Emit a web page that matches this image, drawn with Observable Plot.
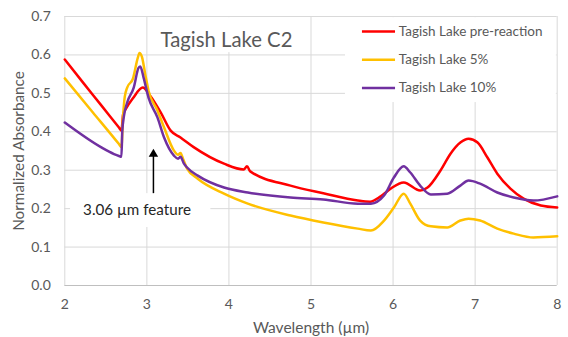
<!DOCTYPE html>
<html><head><meta charset="utf-8">
<script src="https://cdn.jsdelivr.net/npm/d3@7"></script>
<script src="https://cdn.jsdelivr.net/npm/@observablehq/plot@0.6"></script>
<style>body{margin:0;background:#fff;} #chart svg{display:block}</style>
</head><body><div id="chart"></div>
<script>
const seriesNames = ["Tagish Lake pre-reaction", "Tagish Lake 5%", "Tagish Lake 10%"];
const seriesColors = ["#ff0000", "#ffc000", "#7030a0"];

const preWl  = [2.0, 2.23, 2.44, 2.66, 2.69, 2.70, 2.71, 2.74, 2.83, 2.95, 3.04, 3.17, 3.29, 3.41, 3.57, 3.94, 4.18, 4.22, 4.26, 4.75, 5.15, 5.57, 5.72, 5.85, 5.97, 6.13, 6.33, 6.42, 6.58, 6.70, 6.82, 6.92, 7.03, 7.15, 7.27, 7.43, 7.59, 7.80, 8.0];
const preAbs = [0.588, 0.526, 0.47, 0.411, 0.403, 0.42, 0.445, 0.458, 0.487, 0.515, 0.494, 0.45, 0.403, 0.385, 0.36, 0.317, 0.302, 0.31, 0.297, 0.26, 0.24, 0.221, 0.218, 0.232, 0.252, 0.268, 0.247, 0.255, 0.30, 0.343, 0.372, 0.382, 0.372, 0.333, 0.291, 0.252, 0.226, 0.208, 0.203];

const p5Wl  = [2.0, 2.34, 2.66, 2.69, 2.71, 2.73, 2.76, 2.83, 2.89, 2.91, 2.94, 2.98, 3.02, 3.13, 3.21, 3.33, 3.38, 3.41, 3.44, 3.49, 3.62, 3.94, 4.23, 4.75, 5.15, 5.57, 5.73, 5.89, 6.01, 6.13, 6.21, 6.33, 6.46, 6.66, 6.82, 6.92, 7.06, 7.27, 7.47, 7.71, 8.0];
const p5Abs = [0.539, 0.451, 0.368, 0.36, 0.44, 0.49, 0.515, 0.538, 0.593, 0.605, 0.595, 0.55, 0.507, 0.455, 0.411, 0.351, 0.34, 0.345, 0.33, 0.304, 0.278, 0.239, 0.213, 0.182, 0.164, 0.148, 0.143, 0.169, 0.203, 0.239, 0.213, 0.169, 0.154, 0.151, 0.169, 0.174, 0.169, 0.148, 0.135, 0.125, 0.128];

const p10Wl  = [2.0, 2.44, 2.60, 2.66, 2.69, 2.70, 2.72, 2.76, 2.84, 2.90, 2.92, 2.96, 3.02, 3.13, 3.21, 3.33, 3.38, 3.41, 3.45, 3.49, 3.62, 3.94, 4.23, 4.75, 5.15, 5.57, 5.73, 5.89, 6.01, 6.13, 6.21, 6.33, 6.46, 6.66, 6.82, 6.92, 7.06, 7.27, 7.47, 7.71, 8.0];
const p10Abs = [0.424, 0.36, 0.342, 0.337, 0.335, 0.40, 0.44, 0.476, 0.515, 0.567, 0.57, 0.541, 0.489, 0.437, 0.385, 0.338, 0.33, 0.335, 0.318, 0.307, 0.286, 0.255, 0.242, 0.229, 0.224, 0.213, 0.213, 0.234, 0.281, 0.31, 0.294, 0.26, 0.237, 0.239, 0.26, 0.273, 0.265, 0.242, 0.229, 0.221, 0.232];

const xTicks = [2, 3, 4, 5, 6, 7, 8];
const yTicks = [0, 0.1, 0.2, 0.3, 0.4, 0.5, 0.6, 0.7];
const titleText = "Tagish Lake C2";
const annotationText = "3.06 µm feature";
const xLabel = "Wavelength (µm)";
const yLabel = "Normalized Absorbance";

const seriesData = [[preWl, preAbs], [p5Wl, p5Abs], [p10Wl, p10Abs]].map(([w, a]) => w.map((x, i) => ({wl: x, abs: a[i]})));

const font = "Lato, 'Open Sans', sans-serif";
const grey = "#595959";

const marks = [
  Plot.ruleX(xTicks, {stroke: "#d9d9d9", strokeWidth: 1}),
  Plot.ruleY(yTicks.filter(v => v > 0), {stroke: "#d9d9d9", strokeWidth: 1}),
  // white boxes behind title, legend and annotation
  Plot.rect([0], {x1: 3.05, x2: 4.93, y1: 0.606, y2: 0.697, fill: "white"}),
  Plot.rect([0], {x1: 5.42, x2: 7.99, y1: 0.476, y2: 0.697, fill: "white"}),
  Plot.rect([0], {x1: 2.07, x2: 3.78, y1: 0.151, y2: 0.239, fill: "white"}),
  Plot.ruleY([0], {stroke: "#bfbfbf", strokeWidth: 1})
];
seriesData.forEach((d, i) => {
  marks.push(Plot.line(d, {x: "wl", y: "abs", stroke: seriesColors[i], strokeWidth: 2.5, curve: "monotone-x"}));
});
// legend
seriesNames.forEach((name, i) => {
  const ly = 0.661 - i * 0.0735;
  marks.push(Plot.ruleY([ly], {x1: 5.627, x2: 6.03, stroke: seriesColors[i], strokeWidth: 2.5}));
  marks.push(Plot.text([name], {x: 6.07, y: ly, text: d => d, textAnchor: "start", fontSize: 13.5, fill: grey, fontFamily: font}));
});
marks.push(
  Plot.text([titleText], {x: 3.97, y: 0.6375, text: d => d, fontSize: 20.3, fill: grey, fontFamily: font}),
  Plot.ruleX([3.08], {y1: 0.239, y2: 0.345, stroke: "black", strokeWidth: 1.5}),
  Plot.dot([3.08], {x: d => d, y: 0.342, symbol: "triangle", r: 3.5, fill: "black", stroke: "none"}),
  Plot.text([annotationText], {x: 2.88, y: 0.195, text: d => d, fontSize: 15.2, fill: "#262626", fontFamily: font}),
  Plot.text([yLabel], {frameAnchor: "left", textAnchor: "middle", lineAnchor: "middle", rotate: -90, dx: -46, text: d => d, fontSize: 15.3, fill: grey, fontFamily: font}),
  Plot.text([xLabel], {frameAnchor: "bottom", textAnchor: "middle", lineAnchor: "middle", dy: 43, text: d => d, fontSize: 15.5, fill: grey, fontFamily: font})
);

const plot = Plot.plot({
  width: 568, height: 337,
  marginLeft: 64.3, marginRight: 11.3, marginTop: 16, marginBottom: 52,
  style: {fontFamily: font, fontSize: "14px", color: grey, background: "#fff"},
  x: {domain: [2, 8], ticks: xTicks, tickSize: 0, tickPadding: 14, label: null, tickFormat: d3.format("d")},
  y: {domain: [0, 0.7], ticks: yTicks, tickSize: 0, tickPadding: 14, label: null, tickFormat: d3.format(".1f")},
  marks
});
document.getElementById("chart").appendChild(plot);
</script>
</body></html>
